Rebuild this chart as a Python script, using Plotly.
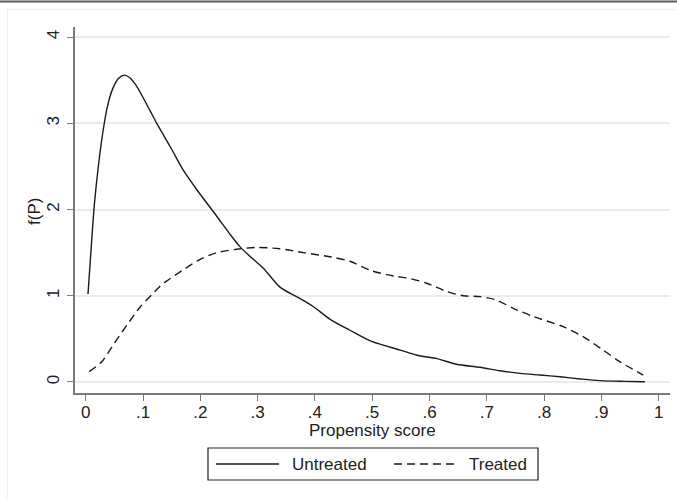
import plotly.graph_objects as go

# ---- data ----
untreated_p = [0.004, 0.010, 0.015, 0.022, 0.030, 0.038, 0.047, 0.057, 0.067, 0.077,
               0.088, 0.100, 0.112, 0.124, 0.137, 0.150, 0.170, 0.194, 0.229, 0.250,
               0.269, 0.293, 0.310, 0.339, 0.368, 0.397, 0.426, 0.461, 0.499, 0.549,
               0.578, 0.613, 0.647, 0.688, 0.723, 0.758, 0.793, 0.828, 0.863, 0.897,
               0.940, 0.976]
untreated_f = [1.02, 1.60, 2.05, 2.50, 2.90, 3.20, 3.40, 3.52, 3.56, 3.53,
               3.44, 3.30, 3.15, 3.00, 2.85, 2.70, 2.46, 2.23, 1.92, 1.73,
               1.57, 1.42, 1.32, 1.10, 0.99, 0.875, 0.73, 0.60, 0.47, 0.37,
               0.31, 0.27, 0.205, 0.17, 0.13, 0.10, 0.08, 0.06, 0.035, 0.015,
               0.007, 0.003]

treated_p = [0.006, 0.028, 0.048, 0.072, 0.095, 0.115, 0.128, 0.141, 0.170, 0.199,
             0.229, 0.264, 0.298, 0.339, 0.380, 0.429, 0.461, 0.499, 0.537, 0.566,
             0.595, 0.630, 0.659, 0.688, 0.717, 0.746, 0.781, 0.834, 0.868, 0.903,
             0.932, 0.973]
treated_f = [0.12, 0.235, 0.43, 0.66, 0.87, 1.01, 1.10, 1.17, 1.30, 1.42,
             1.50, 1.54, 1.56, 1.545, 1.50, 1.45, 1.40, 1.29, 1.23, 1.20,
             1.145, 1.05, 1.00, 0.99, 0.95, 0.855, 0.76, 0.64, 0.525, 0.37,
             0.235, 0.08]

x_tickvals = [0, 0.1, 0.2, 0.3, 0.4, 0.5, 0.6, 0.7, 0.8, 0.9, 1]
x_ticktext = ["0", ".1", ".2", ".3", ".4", ".5", ".6", ".7", ".8", ".9", "1"]
y_tickvals = [0, 1, 2, 3, 4]
y_ticktext = ["0", "1", "2", "3", "4"]
series_names = ["Untreated", "Treated"]

W, H = 677, 498
L, R, T, B = 75, 7, 27, 105
PW, PH = W - L - R, H - T - B
FONT = "Liberation Sans, Arial, sans-serif"
FS = 17
LINE = "#1a1a1a"
TXT = "#222222"


def px(x):
    return (x - L) / PW


def py(y):
    return (H - B - y) / PH


fig = go.Figure()
fig.add_trace(go.Scatter(x=untreated_p, y=untreated_f, mode="lines", name=series_names[0],
                         line=dict(color=LINE, width=1.4, shape="spline", smoothing=0.8),
                         showlegend=False))
fig.add_trace(go.Scatter(x=treated_p, y=treated_f, mode="lines", name=series_names[1],
                         line=dict(color=LINE, width=1.4, dash="8px,5px", shape="spline", smoothing=0.8),
                         showlegend=False))

shapes = []
# outer frame pieces
shapes.append(dict(type="line", xref="paper", yref="paper", x0=px(0), x1=px(W), y0=py(1.5), y1=py(1.5),
                   line=dict(color="#5a5a5a", width=2)))
shapes.append(dict(type="line", xref="paper", yref="paper", x0=px(7.5), x1=px(W), y0=py(9.5), y1=py(9.5),
                   line=dict(color="#efefef", width=1)))
shapes.append(dict(type="line", xref="paper", yref="paper", x0=px(7.5), x1=px(7.5), y0=py(9.5), y1=py(H),
                   line=dict(color="#efefef", width=1)))
# legend box
lx0, lx1, ly0, ly1 = 208, 538, 448, 480
shapes.append(dict(type="rect", xref="paper", yref="paper", x0=px(lx0), x1=px(lx1), y0=py(ly0), y1=py(ly1),
                   line=dict(color="#222222", width=1.2), fillcolor="white"))
ly = (ly0 + ly1) / 2
shapes.append(dict(type="line", xref="paper", yref="paper", x0=px(216), x1=px(279), y0=py(ly), y1=py(ly),
                   line=dict(color=LINE, width=1.4)))
shapes.append(dict(type="line", xref="paper", yref="paper", x0=px(394), x1=px(458), y0=py(ly), y1=py(ly),
                   line=dict(color=LINE, width=1.4, dash="8px,5px")))

annotations = [
    dict(text=series_names[0], xref="paper", yref="paper", x=px(290), y=py(ly), xanchor="left",
         yanchor="middle", showarrow=False, font=dict(family=FONT, size=FS, color=TXT)),
    dict(text=series_names[1], xref="paper", yref="paper", x=px(467), y=py(ly), xanchor="left",
         yanchor="middle", showarrow=False, font=dict(family=FONT, size=FS, color=TXT)),
    dict(text="Propensity score", xref="paper", yref="paper", x=px(372.5), y=py(431),
         xanchor="center", yanchor="middle", showarrow=False, font=dict(family=FONT, size=FS, color=TXT)),
    dict(text="f(P)", xref="paper", yref="paper", x=px(34), y=py(212), textangle=-90,
         xanchor="center", yanchor="middle", showarrow=False, font=dict(family=FONT, size=FS, color=TXT)),
]

fig.update_layout(
    width=W, height=H,
    margin=dict(l=L, r=R, t=T, b=B, autoexpand=False),
    paper_bgcolor="white", plot_bgcolor="white",
    font=dict(family=FONT, size=FS, color=TXT),
    shapes=shapes, annotations=annotations,
    showlegend=False,
    xaxis=dict(range=[-0.0187, 1.0197], tickvals=x_tickvals, ticktext=x_ticktext, automargin=False,
               ticklabelstandoff=-3,
               showgrid=False, zeroline=False, showline=True, linecolor="#7a7a7a", linewidth=1.5,
               ticks="outside", ticklen=6, tickcolor="#7a7a7a", tickwidth=1.3,
               tickfont=dict(size=FS, color=TXT)),
    yaxis=dict(range=[-0.128, 4.118], tickvals=y_tickvals, ticktext=y_ticktext, tickangle=-90,
               automargin=False, ticklabelstandoff=1,
               showgrid=True, gridcolor="#ebebeb", gridwidth=1.5, zeroline=False,
               showline=True, linecolor="#7a7a7a", linewidth=1.5,
               ticks="outside", ticklen=6, tickcolor="#7a7a7a", tickwidth=1.3,
               tickfont=dict(size=FS, color=TXT)),
)

fig.write_html("out.html", config={"displayModeBar": False},
               post_script="document.body.style.margin='0';document.body.style.overflow='hidden';")
